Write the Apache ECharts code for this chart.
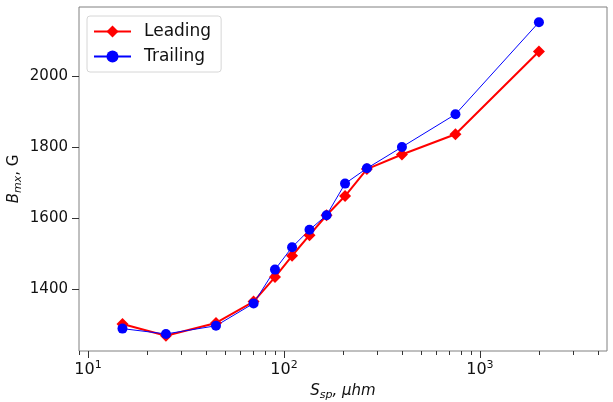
<!DOCTYPE html>
<html>
<head>
<meta charset="utf-8">
<script src="https://cdn.jsdelivr.net/npm/echarts@6/dist/echarts.min.js"></script>
<style>
  html, body { margin: 0; padding: 0; background: #fff; }
  #chart { width: 613px; height: 402px; }
</style>
</head>
<body>
<div id="chart"></div>
<script>
// S_sp values (log axis) and B_mx for both polarities
const sspValues = [15, 25, 45, 70, 90, 110, 135, 165, 205, 265, 400, 750, 2000];
const leading = [1302, 1269, 1305, 1365, 1434, 1494, 1552, 1608, 1662, 1738, 1779, 1836, 2069];
const trailing = [1289, 1274, 1297, 1360, 1455, 1518, 1567, 1608, 1697, 1740, 1800, 1892, 2151];

const xMajor = [10, 100, 1000];
const xMinor = [9, 20, 30, 40, 50, 60, 70, 80, 90, 200, 300, 400, 500, 600, 700, 800, 900, 2000, 3000, 4000];
const yTicks = [1400, 1600, 1800, 2000];

const font = 'DejaVu Sans';
const frame = '#808080';
const ink = '#111';

function pair(arr) {
  return sspValues.map((x, i) => [x, arr[i]]);
}

let option = {
  animation: false,
  textStyle: { fontFamily: font },
  grid: {
    left: 79, right: 6, top: 7, bottom: 51,
    containLabel: false,
    outerBoundsMode: 'none',
    show: true, borderColor: frame, borderWidth: 1
  },
  legend: {
    orient: 'vertical',
    left: 87, top: 16,
    padding: [7, 10, 7, 6],
    itemGap: 8,
    itemWidth: 37,
    itemHeight: 15,
    backgroundColor: 'rgba(255,255,255,0.8)',
    borderColor: '#d6d6d6',
    borderWidth: 1,
    borderRadius: 3,
    textStyle: { fontSize: 17, color: ink, fontFamily: font, padding: [0, 0, 0, 8] },
    data: ['Leading', 'Trailing']
  },
  xAxis: [
    {
      type: 'log', logBase: 10, min: 9, max: 4450,
      gridIndex: 0,
      axisLine: { show: false },
      splitLine: { show: false },
      minorTick: { show: false },
      axisTick: { customValues: xMajor, length: 7, lineStyle: { color: '#333' } },
      axisLabel: {
        customValues: xMajor,
        margin: 9,
        color: ink,
        formatter: function (v) {
          const e = Math.round(Math.log10(v));
          return '{b|10}{s|' + e + '}';
        },
        rich: {
          b: { fontSize: 16, fontFamily: font, color: ink, lineHeight: 20 },
          s: { fontSize: 11, fontFamily: font, color: ink, verticalAlign: 'top', lineHeight: 20 }
        }
      },
      name: '{i|S}{sub|sp}{i|, μhm}',
      nameLocation: 'middle',
      nameGap: 30,
      nameMoveOverlap: false,
      nameTextStyle: {
        rich: {
          i: { fontSize: 15, fontStyle: 'italic', fontFamily: font, color: ink, lineHeight: 20 },
          sub: { fontSize: 11, fontStyle: 'italic', fontFamily: font, color: ink, verticalAlign: 'bottom', lineHeight: 20 }
        }
      }
    },
    {
      type: 'log', logBase: 10, min: 9, max: 4450,
      gridIndex: 0,
      position: 'bottom',
      axisLine: { show: false },
      splitLine: { show: false },
      axisTick: { customValues: xMinor, length: 4, lineStyle: { color: '#333' } },
      axisLabel: { show: false }
    }
  ],
  yAxis: {
    type: 'value', min: 1226, max: 2194,
    axisLine: { show: false },
    splitLine: { show: false },
    axisTick: { show: true, customValues: yTicks, length: 7, lineStyle: { color: '#333' } },
    axisLabel: {
      customValues: yTicks, fontSize: 15, color: ink, margin: 11, fontFamily: font,
      formatter: function (v) { return String(v); }
    },
    name: '{i|B}{sub|mx}{n|, G}',
    nameLocation: 'middle',
    nameGap: 55,
    nameMoveOverlap: false,
    nameTextStyle: {
      rich: {
        i: { fontSize: 15, fontStyle: 'italic', fontFamily: font, color: ink, lineHeight: 20 },
        sub: { fontSize: 11, fontStyle: 'italic', fontFamily: font, color: ink, verticalAlign: 'bottom', lineHeight: 20 },
        n: { fontSize: 15, fontFamily: font, color: ink, lineHeight: 20 }
      }
    }
  },
  series: [
    {
      name: 'Leading',
      type: 'line',
      data: pair(leading),
      symbol: 'diamond',
      symbolSize: 12,
      color: '#ff0000',
      lineStyle: { width: 2, color: '#ff0000' },
      itemStyle: { color: '#ff0000' }
    },
    {
      name: 'Trailing',
      type: 'line',
      data: pair(trailing),
      symbol: 'circle',
      symbolSize: 10,
      color: '#0000ff',
      lineStyle: { width: 1, color: '#0000ff' },
      itemStyle: { color: '#0000ff' }
    }
  ]
};

let mychart = echarts.init(document.getElementById('chart'));
mychart.setOption(option);
</script>
</body>
</html>
